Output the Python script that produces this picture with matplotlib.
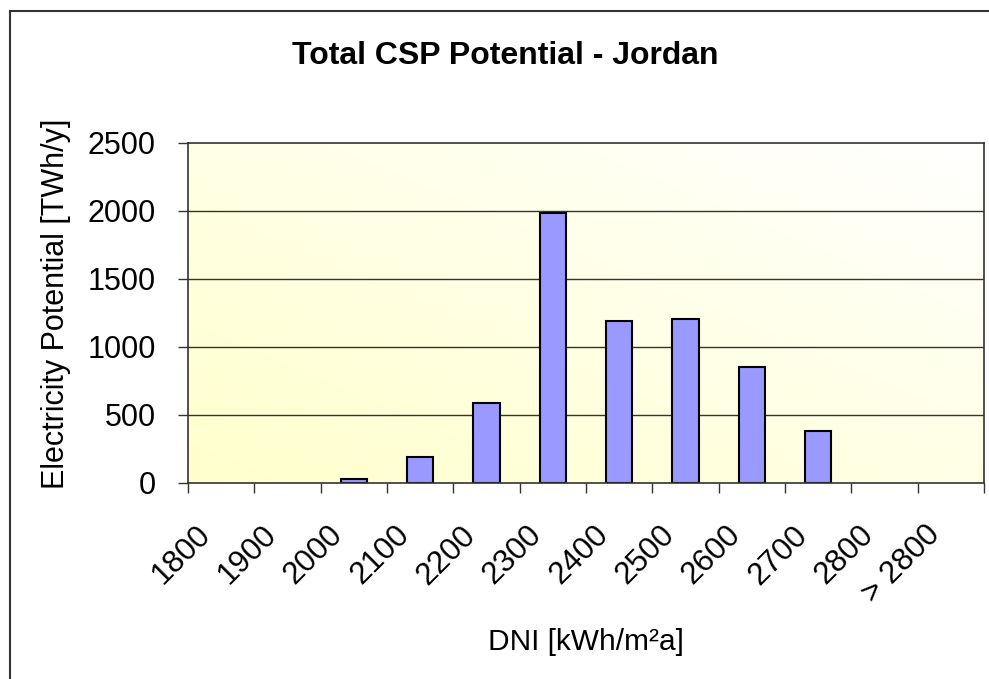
import numpy as np
import matplotlib
matplotlib.use("Agg")
import matplotlib.pyplot as plt
import matplotlib.transforms as mtransforms
from matplotlib.patches import Rectangle
from matplotlib.colors import LinearSegmentedColormap

plt.rcParams['font.family'] = ['Liberation Sans', 'DejaVu Sans']

# DNI classes and electricity potential per class
dni_classes = ["1800", "1900", "2000", "2100", "2200", "2300",
               "2400", "2500", "2600", "2700", "2800", "> 2800"]
potential_twh = [0, 0, 29, 189, 588, 1985, 1190, 1205, 851, 382, 0, 0]
y_ticks = [0, 500, 1000, 1500, 2000, 2500]

W, H = 989, 679
fig = plt.figure(figsize=(W / 100, H / 100), dpi=100)
fig.patch.set_facecolor("white")

# plot area in pixel coords: x 188..984, y 143..483
ax = fig.add_axes([188 / W, 1 - 483 / H, 796 / W, 340 / H])

# diagonal fill: pale yellow bottom-left to white top-right
gx, gy = np.meshgrid(np.linspace(0, 1, 200), np.linspace(0, 1, 200))
grad = (gx + gy) / 2
cmap = LinearSegmentedColormap.from_list("bg", ["#FFFFCC", "#FFFFFF"])
ax.imshow(grad, extent=[0, 1, 0, 1], transform=ax.transAxes, origin="lower",
          cmap=cmap, aspect="auto", zorder=0, interpolation="bilinear")

n = len(dni_classes)
centers = np.arange(n) + 0.5
# empty classes get no outline, so nothing shows on the axis line
edges = ["black" if v > 0 else "none" for v in potential_twh]
ax.bar(centers, potential_twh, width=0.4, color="#9999FF",
       edgecolor=edges, linewidth=1.5, zorder=3)

ax.set_xlim(0, n)
ax.set_ylim(0, 2500)

for v in y_ticks[1:-1]:
    ax.axhline(v, color="#333333", lw=1, zorder=1)

ax.set_yticks(y_ticks)
ax.set_yticklabels([str(v) for v in y_ticks], fontsize=22)
ax.tick_params(axis="y", direction="out", length=7.2, width=1,
               color="#333333", pad=16)

ax.set_xticks(np.arange(n + 1))
ax.set_xticklabels([])
ax.tick_params(axis="x", direction="out", length=7.2, width=1, color="#333333")

for s in ax.spines.values():
    s.set_color("#333333")
    s.set_linewidth(1.2)
ax.spines["bottom"].set_zorder(4)

# rotated category labels, top-right corner just below each bar slot
offset = mtransforms.ScaledTranslation(-26 / 100, -37 / 100, fig.dpi_scale_trans)
trans = ax.get_xaxis_transform() + offset
for c, lab in zip(centers, dni_classes):
    ax.text(c, 0, lab, transform=trans, rotation=45, rotation_mode="anchor",
            ha="right", va="top", fontsize=22.5)

fig.text(505 / W, 1 - 64 / H, "Total CSP Potential - Jordan",
         ha="center", va="baseline", fontsize=23, fontweight="bold")
fig.text(586 / W, 1 - 650 / H, "DNI [kWh/m²a]",
         ha="center", va="baseline", fontsize=21.5)
fig.text(56 / W, 1 - 304 / H, "Electricity Potential [TWh/y]",
         ha="center", va="center", rotation=90, fontsize=22)

# chart frame, running off the right and bottom edges
fig.add_artist(Rectangle((10 / W, -0.2), 2, 1.2 - 11 / H,
                         transform=fig.transFigure, fill=False,
                         edgecolor="#333333", linewidth=1.5))

fig.savefig("out.png", dpi=100)
